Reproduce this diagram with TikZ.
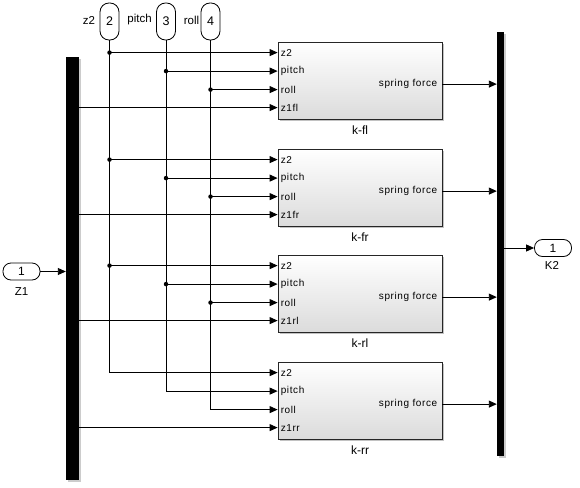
\documentclass[tikz,border=0pt]{standalone}
\usepackage{fontspec}
\setmainfont{Liberation Sans}
\usetikzlibrary{arrows.meta,shadows,calc}
\begin{document}
\begin{tikzpicture}[x=1pt,y=-1pt,
  every node/.style={font=\fontsize{11.5}{13}\selectfont},
  wire/.style={line width=0.9pt},
  arr/.style={wire,-{Triangle[length=8pt,width=7pt]}},
  blk/.style={draw=black!85,line width=0.8pt,minimum width=164pt,minimum height=77pt,
    top color=white,bottom color=black!14,inner sep=0pt,
    drop shadow={shadow xshift=2pt,shadow yshift=-2pt,fill=black!40,opacity=0.6}},
  busbar/.style={fill=black,inner sep=0pt,
    drop shadow={shadow xshift=2pt,shadow yshift=-2pt,fill=black!40,opacity=0.5}},
  vport/.style={draw,fill=white,line width=0.8pt,rounded corners=9pt,minimum width=19pt,minimum height=37pt,inner sep=0pt,font=\fontsize{12.5}{14}\selectfont},
  hport/.style={draw,fill=white,line width=0.8pt,rounded corners=8pt,minimum width=37pt,minimum height=17pt,inner sep=0pt,font=\fontsize{12}{14}\selectfont},
  plab/.style={font=\fontsize{10}{11}\selectfont\addfontfeatures{LetterSpace=6},anchor=west,inner sep=0pt,xshift=3pt},
  olab/.style={font=\fontsize{10}{11}\selectfont\addfontfeatures{LetterSpace=6},anchor=east,inner sep=0pt,xshift=-5pt},
  dot/.style={circle,fill,inner sep=0pt,minimum size=4.5pt}
]
\useasboundingbox (0,0) rectangle (580,487);

% bus bars
\node[busbar,minimum width=13pt,minimum height=423pt] (bus1) at (72.5,268.5) {};
\node[busbar,minimum width=7pt,minimum height=424pt] (bus2) at (500.5,244) {};

% inports
\node[vport] (in2) at (109.5,21.5) {2};
\node[vport] (in3) at (166,21.5) {3};
\node[vport] (in4) at (210.5,21.5) {4};
\node (lz2) at (89,20) {z2};
\node (lpitch) at (139.5,20) {pitch};
\node (lroll) at (191.5,20) {roll};

\node[hport] (z1in) at (21.5,271.5) {1};
\node (lz1) at (21.5,292) {Z1};
\node[hport] (k2out) at (553,248) {1};
\node (lk2) at (552,265) {K2};

% blocks
\foreach \b/\n/\s/\yc in {kfl/k-fl/fl/80.5, kfr/k-fr/fr/187.5, krl/k-rl/rl/293.5, krr/k-rr/rr/400.5}{
  \node[blk] (\b) at (360,\yc) {};
  \coordinate (\b-p1) at ($(\b.north west)+(0,11)$);
  \coordinate (\b-p2) at ($(\b.north west)+(0,29.5)$);
  \coordinate (\b-p3) at ($(\b.north west)+(0,48)$);
  \coordinate (\b-p4) at ($(\b.north west)+(0,66)$);
  \coordinate (\b-out) at ($(\b.north east)+(0,42.5)$);
  \node[plab] (\b-l1) at (\b-p1) {z2};
  \node[plab] (\b-l2) at (\b-p2) {pitch};
  \node[plab] (\b-l3) at (\b-p3) {roll};
  \node[plab] (\b-l4) at (\b-p4) {z1\s};
  \node[olab] (\b-lo) at (\b-out) {spring force};
  \node[anchor=north,yshift=-3pt,font=\fontsize{12}{14}\selectfont] (\b-name) at (\b.south) {\n};
  \draw[arr] (bus1.east |- \b-p4) -- (\b-p4);
  \draw[arr] (\b-out) -- (bus2.west |- \b-out);
}

% vertical feeder lines
\draw[arr] (in2.south) |- (krr-p1);
\draw[arr] (in3.south) |- (krr-p2);
\draw[arr] (in4.south) |- (krr-p3);
\foreach \b in {kfl,kfr,krl}{
  \draw[arr] (in2.south |- \b-p1) -- (\b-p1);
  \draw[arr] (in3.south |- \b-p2) -- (\b-p2);
  \draw[arr] (in4.south |- \b-p3) -- (\b-p3);
  \node[dot] (\b-d1) at (in2.south |- \b-p1) {};
  \node[dot] (\b-d2) at (in3.south |- \b-p2) {};
  \node[dot] (\b-d3) at (in4.south |- \b-p3) {};
}

% in/out of mux
\draw[arr] (z1in.east) -- (z1in.east -| bus1.west);
\draw[arr] (bus2.east |- k2out) -- (k2out.west);
\end{tikzpicture}
\end{document}
